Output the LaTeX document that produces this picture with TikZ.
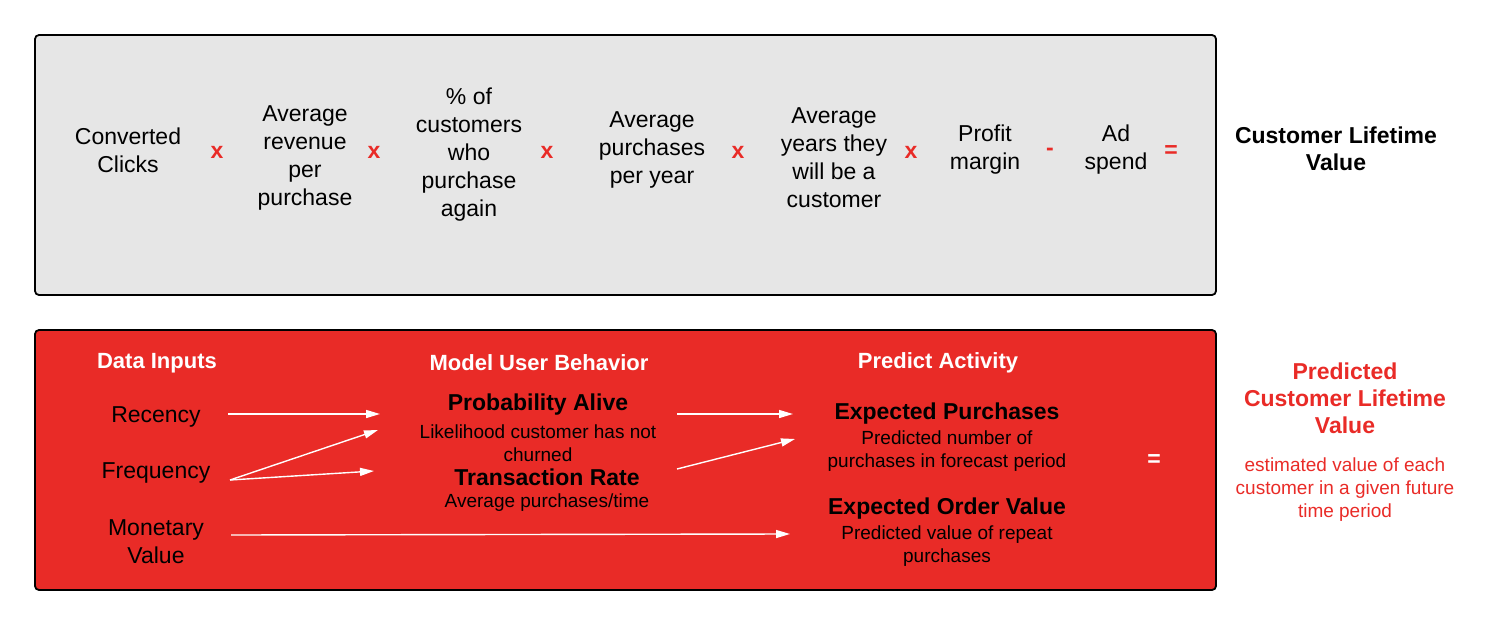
\documentclass[tikz,border=0pt]{standalone}
\usepackage{fontspec}
\setmainfont{Liberation Sans}
\usetikzlibrary{arrows.meta}
\definecolor{boxgray}{HTML}{E6E6E6}
\definecolor{boxred}{HTML}{E92B27}
\tikzset{
  term/.style={align=center,font=\fontsize{23}{28}\selectfont},
  op/.style={text=boxred,font=\fontsize{23}{28}\selectfont\bfseries},
  head/.style={text=white,font=\fontsize{22}{27}\selectfont\bfseries},
  big/.style={align=center,font=\fontsize{23}{27}\selectfont\bfseries},
  small/.style={align=center,font=\fontsize{19}{23}\selectfont},
  flow/.style={white,line width=1.4pt,-{Triangle[length=14pt,width=8pt]}}
}
\begin{document}
\begin{tikzpicture}[x=1pt,y=-1pt]
\useasboundingbox (0,0) rectangle (1500,626);
\draw[fill=boxgray,line width=1.8pt,rounded corners=4pt] (35,35) rectangle (1216,295);
\draw[fill=boxred,line width=1.8pt,rounded corners=4pt] (35,330) rectangle (1216,590);
% formula
\path (128,150) node[term](clicks) {Converted\\Clicks}
(217,152) node[op](x1) {x}
(305,158) node[term](rev) {Average\\revenue\\per\\purchase}
(374,152) node[op](x2) {x}
(469,155) node[term](again) {\% of\\customers\\who\\purchase\\again}
(547,152) node[op](x3) {x}
(652,150) node[term](peryear) {Average\\purchases\\per year}
(738,152) node[op](x4) {x}
(834,158) node[term](years) {Average\\years they\\will be a\\customer}
(911,152) node[op](x5) {x}
(985,150) node[term](margin) {Profit\\margin}
(1050,152) node[op](minus) {-}
(1116,150) node[term](spend) {Ad\\spend}
(1171,152) node[op](eq1) {=}
(1336,149) node[big](clv) {Customer Lifetime\\Value};
% model
\path (157,363) node[head](inputs) {Data Inputs}
(539,363) node[head](model) {Model User Behavior}
(938,363) node[head](predict) {Predict Activity}
(156,417) node[term](rec) {Recency}
(156,473) node[term](freq) {Frequency}
(156,542) node[term](mon) {Monetary\\Value}
(538,405) node[big](alive) {Probability Alive}
(538,443) node[small](aliveTxt) {Likelihood customer has not\\churned}
(547,477) node[big](rate) {Transaction Rate}
(547,503) node[small](rateTxt) {Average purchases/time}
(947,414) node[big](purch) {Expected Purchases}
(947,451) node[small](purchTxt) {Predicted number of\\purchases in forecast period}
(947,509) node[big](order) {Expected Order Value}
(947,546) node[small](orderTxt) {Predicted value of repeat\\purchases}
(1154,461) node[op,text=white](eq2) {=}
(1345,398) node[big,text=boxred](pclv) {Predicted\\Customer Lifetime\\Value}
(1345,490) node[small,text=boxred](pclvTxt) {estimated value of each\\customer in a given future\\time period};
\coordinate (recE) at (228,414);
\coordinate (freqE) at (230,480);
\coordinate (monE) at (231,535);
\coordinate (aliveW) at (380,414);
\coordinate (aliveSW) at (378,430);
\coordinate (rateW) at (374,471);
\coordinate (aliveE) at (677,414);
\coordinate (rateE) at (677,469);
\coordinate (purchW) at (793,414);
\coordinate (purchSW) at (795,439);
\coordinate (orderW) at (790,534);
\draw[flow] (recE) -- (aliveW);
\draw[flow] (freqE) -- (aliveSW);
\draw[flow] (freqE) -- (rateW);
\draw[flow] (aliveE) -- (purchW);
\draw[flow] (rateE) -- (purchSW);
\draw[flow] (monE) -- (orderW);
\end{tikzpicture}
\end{document}
